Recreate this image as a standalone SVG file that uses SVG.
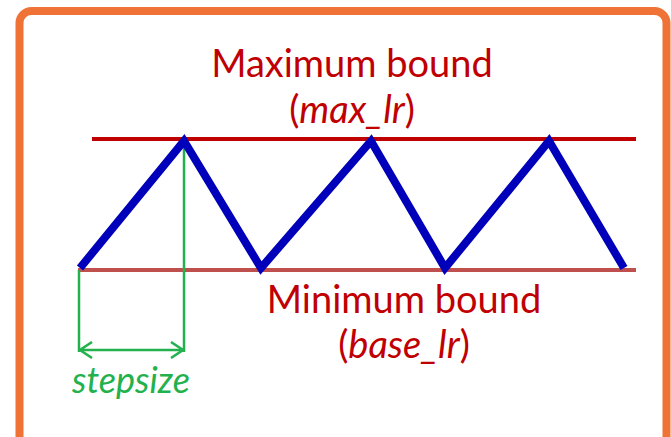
<svg xmlns="http://www.w3.org/2000/svg" width="671" height="437" viewBox="0 0 671 437">
<defs>
<style>
.lbl{font-family:Lato,"Open Sans","Liberation Sans",sans-serif;font-size:38px;fill:#c00000;text-anchor:middle}
.it{font-style:italic}
.g{stroke:#22b14c;stroke-width:2.5;fill:none}
</style>
<marker id="ah" markerWidth="16" markerHeight="18" refX="14" refY="9" orient="auto-start-reverse" markerUnits="userSpaceOnUse">
<path d="M2,1 L14,9 L2,17" fill="none" stroke="#22b14c" stroke-width="2.5"/>
</marker>
</defs>
<rect width="671" height="437" fill="#ffffff"/>
<rect id="frame" x="19.5" y="11" width="647" height="440" rx="12" fill="#ffffff" stroke="#ef7336" stroke-width="8"/>
<g id="bounds">
<line x1="92" y1="139" x2="636" y2="139" stroke="#c00000" stroke-width="4"/>
<line x1="78" y1="270" x2="636" y2="270" stroke="#c0504d" stroke-width="4"/>
</g>
<g id="connectors">
<line class="g" x1="79" y1="270" x2="79" y2="352"/>
<line class="g" x1="184" y1="140" x2="184" y2="352"/>
<line class="g" x1="80" y1="350" x2="183" y2="350" marker-start="url(#ah)" marker-end="url(#ah)"/>
</g>
<g id="wave">
<polyline points="80,268 184,141 261,268 371,141 445,268 549,141 624,268" fill="none" stroke="#0000bb" stroke-width="8" stroke-linejoin="miter"/>
</g>
<g id="max">
<text class="lbl" x="352" y="77">Maximum bound</text>
<text class="lbl" x="352" y="123">(<tspan class="it">max_lr</tspan>)</text>
</g>
<g id="min">
<text class="lbl" x="404" y="313">Minimum bound</text>
<text class="lbl" x="404" y="358">(<tspan class="it">base_lr</tspan>)</text>
</g>
<g id="step">
<text class="lbl it" x="131" y="393" style="fill:#22b14c;font-size:36px">stepsize</text>
</g>
</svg>
